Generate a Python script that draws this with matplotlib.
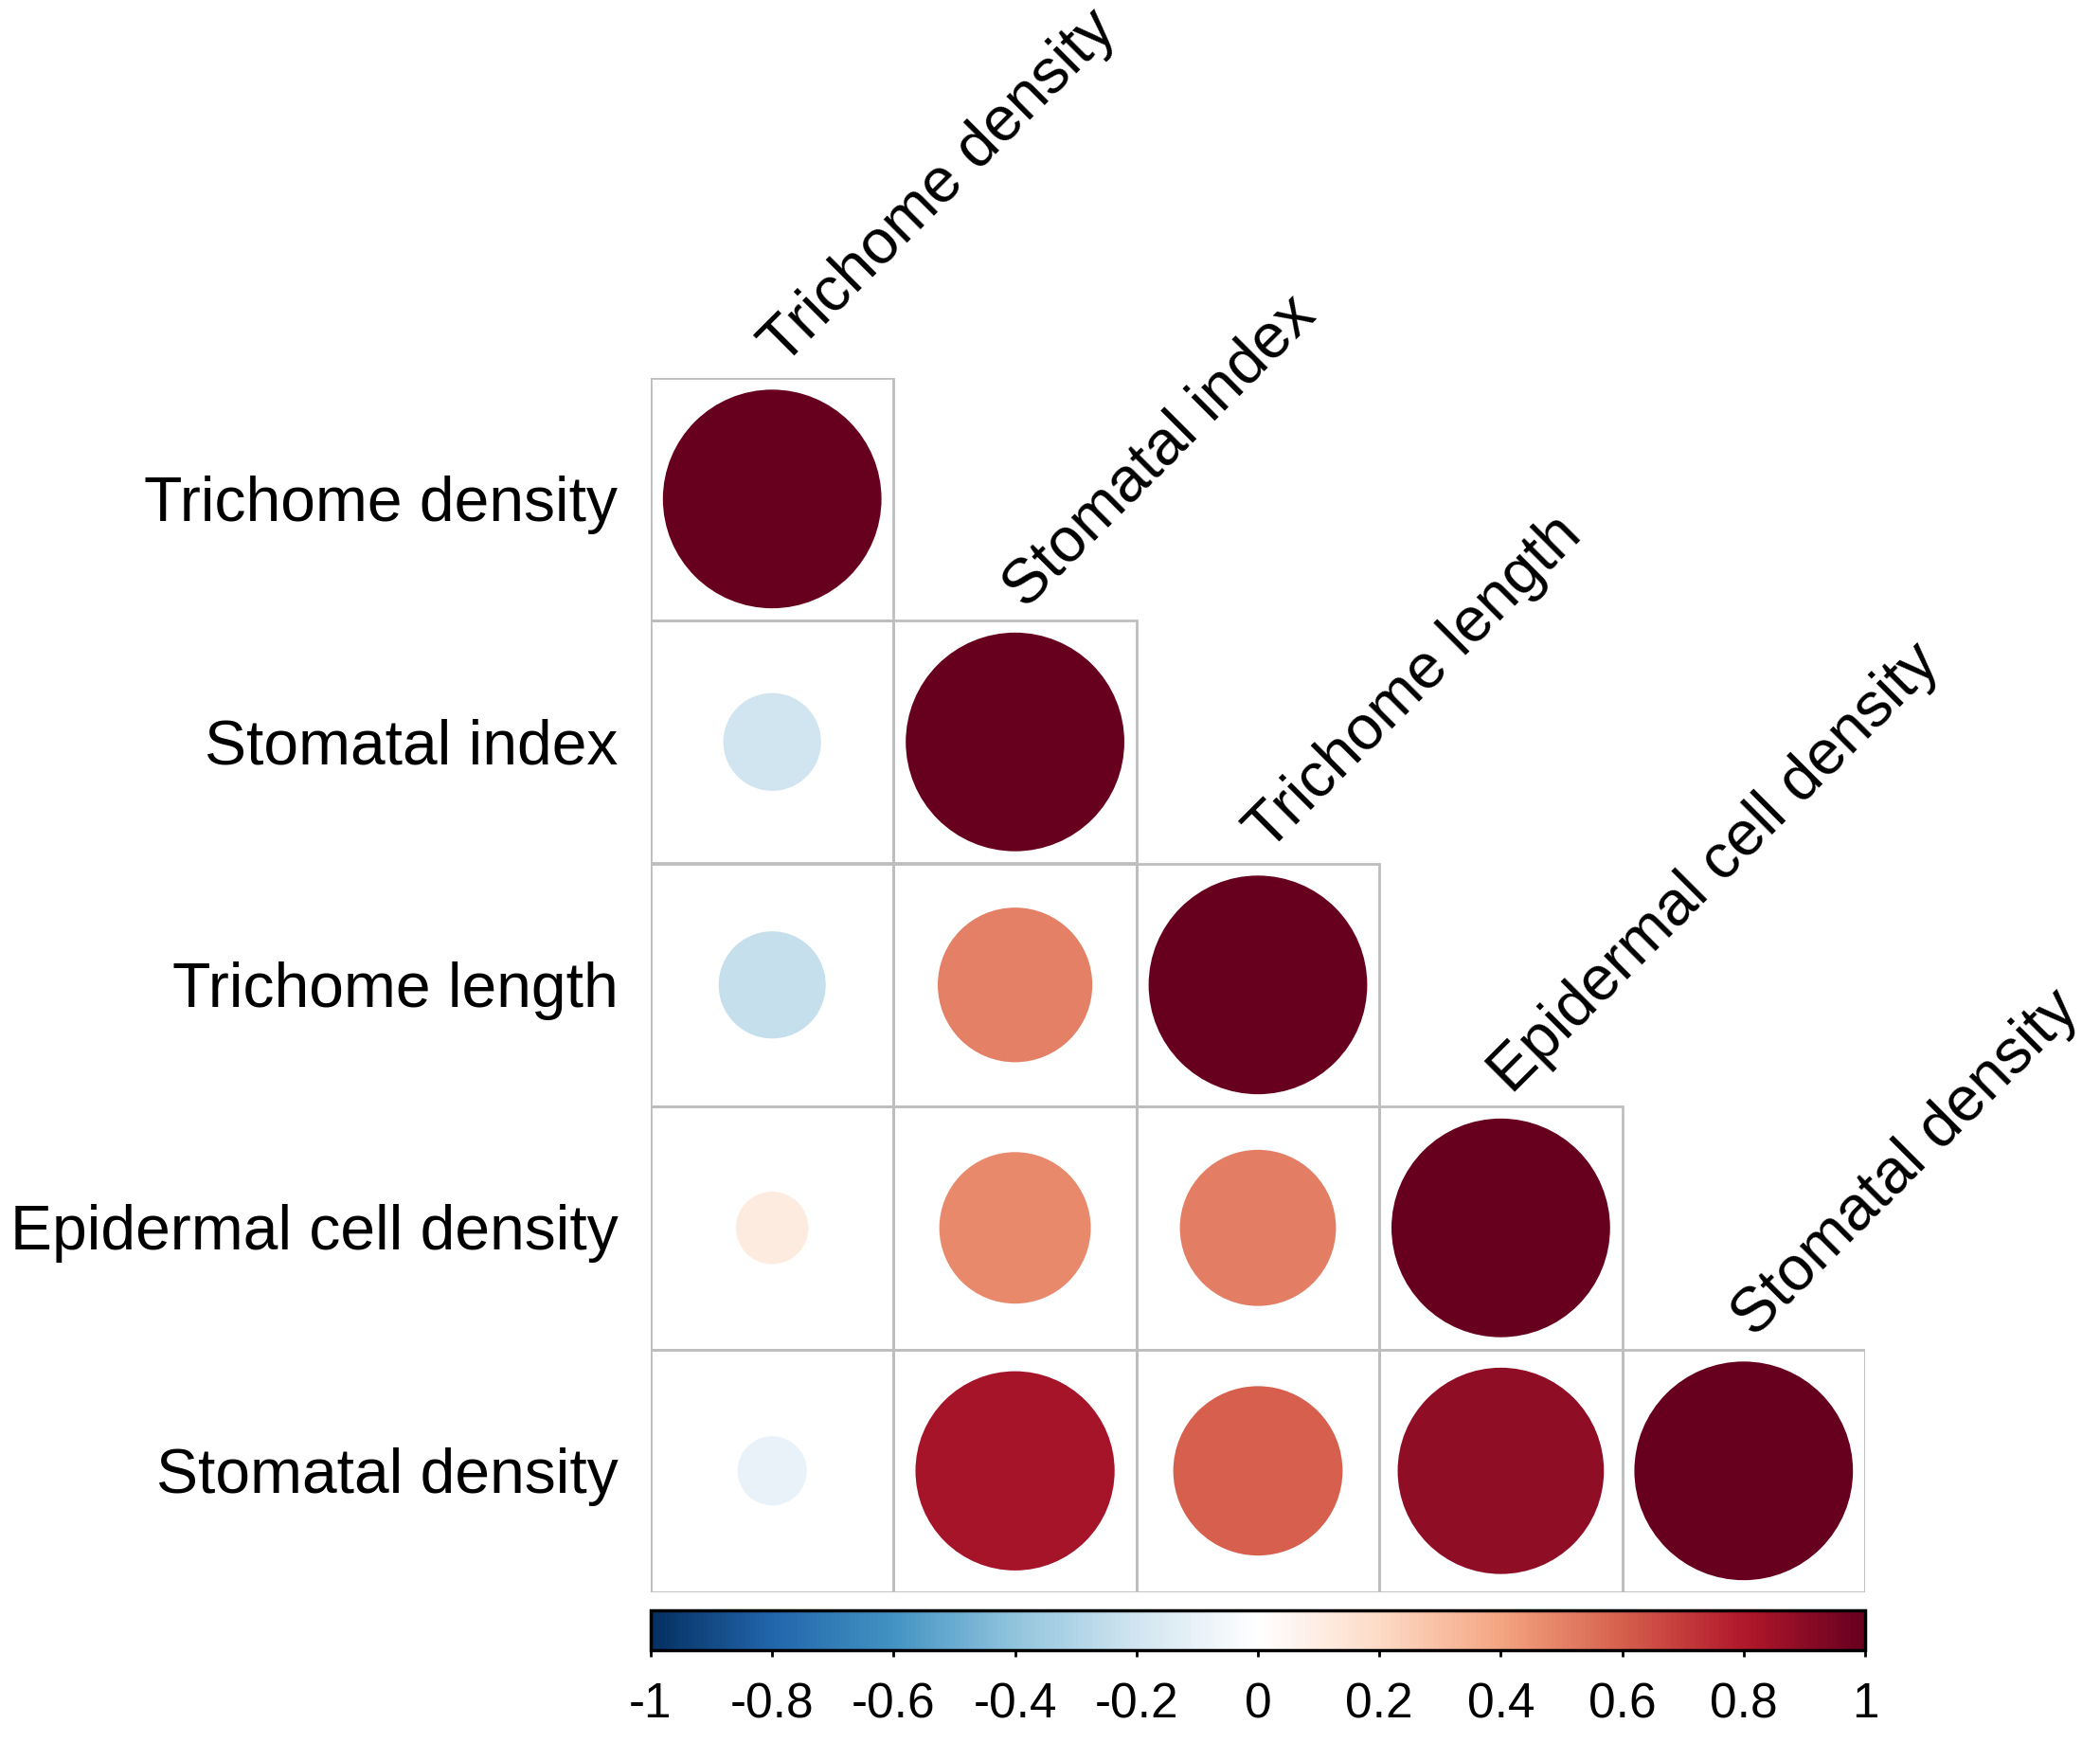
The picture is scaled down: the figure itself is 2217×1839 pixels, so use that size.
import matplotlib
matplotlib.use('Agg')
import matplotlib.pyplot as plt
import numpy as np
from matplotlib.colors import LinearSegmentedColormap, Normalize
from matplotlib.patches import Circle, Rectangle
from matplotlib.cm import ScalarMappable

plt.rcParams['font.family'] = ['Liberation Sans', 'DejaVu Sans']

traits = ['Trichome density', 'Stomatal index', 'Trichome length',
          'Epidermal cell density', 'Stomatal density']

# lower triangle of the correlation matrix, one list per row
r_trichome_density = [1.00]
r_stomatal_index = [-0.20, 1.00]
r_trichome_length = [-0.24, 0.50, 1.00]
r_epidermal = [0.11, 0.48, 0.51, 1.00]
r_stomatal_density = [-0.10, 0.83, 0.60, 0.89, 1.00]
corr_rows = [r_trichome_density, r_stomatal_index, r_trichome_length,
             r_epidermal, r_stomatal_density]

cb_ticks = [-1, -0.8, -0.6, -0.4, -0.2, 0, 0.2, 0.4, 0.6, 0.8, 1]

# corrplot RdBu palette
cmap = LinearSegmentedColormap.from_list('corr_rdbu', [
    '#053061', '#2166AC', '#4393C3', '#92C5DE', '#D1E5F0', '#FFFFFF',
    '#FDDBC7', '#F4A582', '#D6604D', '#B2182B', '#67001F'])
norm = Normalize(-1, 1)

W, H = 2217, 1839
fig = plt.figure(figsize=(W / 100, H / 100), dpi=100)

gl, gr, gt, gb = 687, 1969, 398.5, 1681
ax = fig.add_axes([gl / W, 1 - gb / H, (gr - gl) / W, (gb - gt) / H])
n = len(traits)
ax.set_xlim(0, n)
ax.set_ylim(0, n)
ax.axis('off')

fs = 47.5
for i, row in enumerate(corr_rows):
    yc = n - i - 0.5
    for j, r in enumerate(row):
        ax.add_patch(Rectangle((j, n - i - 1), 1, 1, facecolor='none',
                               edgecolor='#BEBEBE', lw=2.0, zorder=1))
        ax.add_patch(Circle((j + 0.5, yc), 0.45 * np.sqrt(abs(r)),
                            facecolor=cmap(norm(r)), edgecolor='none', zorder=2))
    # row label
    ax.text(-0.135, yc - 0.09, traits[i], ha='right', va='baseline',
            fontsize=fs, color='black', clip_on=False)
    # column label above the diagonal cell
    ax.text(i + 0.5 + 0.045, n - i + 0.045, traits[i], ha='left', va='baseline',
            rotation=45, rotation_mode='anchor', fontsize=fs, color='black',
            clip_on=False)

# colour bar
ct, cbm = 1700, 1742
cax = fig.add_axes([gl / W, 1 - cbm / H, (gr - gl) / W, (cbm - ct) / H])
cb = fig.colorbar(ScalarMappable(norm=norm, cmap=cmap), cax=cax,
                  orientation='horizontal', ticks=cb_ticks)
cb.set_ticklabels(['{:g}'.format(t) for t in cb_ticks])
cb.outline.set_linewidth(2.5)
cb.outline.set_edgecolor('black')
cax.tick_params(length=5, width=2, labelsize=37, pad=19, colors='black')

fig.savefig('out.png', dpi=100, facecolor='white')
